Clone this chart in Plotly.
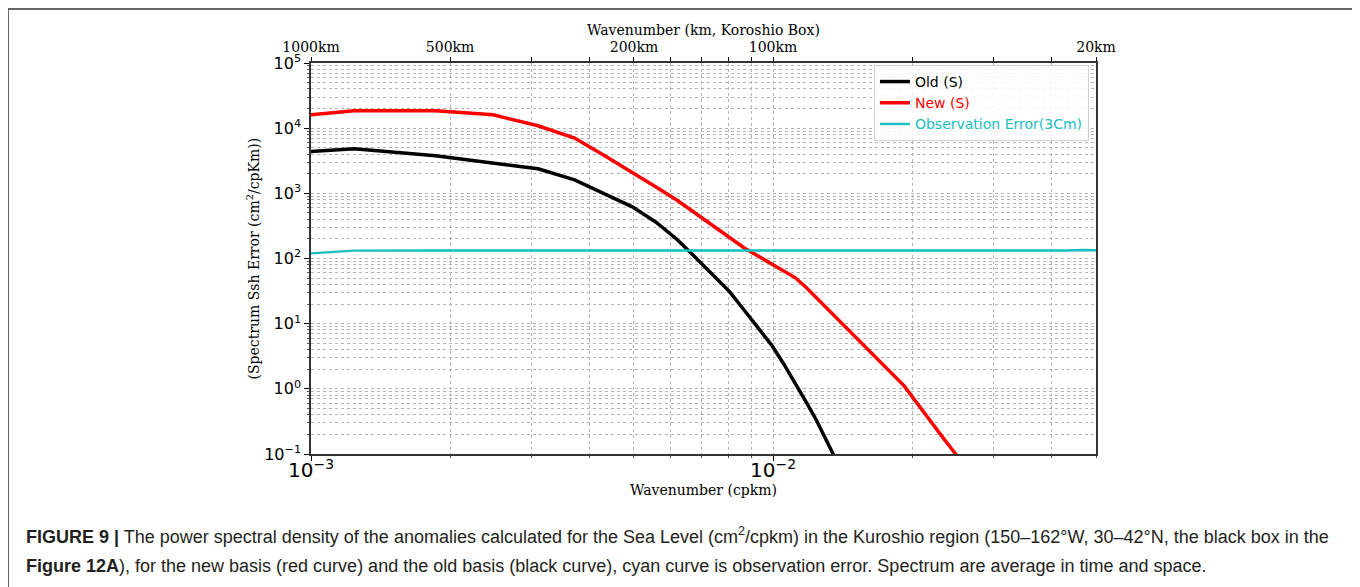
import plotly.graph_objects as go

# wavenumber (cpkm) of spectral estimates
wavenumber = [0.00062, 0.00124, 0.00186, 0.00248, 0.0031, 0.00372, 0.00434, 0.00496,
              0.00558, 0.0062, 0.00682, 0.00744, 0.00806, 0.00868, 0.0093, 0.00992,
              0.01054, 0.01116, 0.01178, 0.0124, 0.01302, 0.01364, 0.01426, 0.01488,
              0.0155, 0.01612, 0.01674, 0.01736, 0.01798, 0.0186, 0.01922, 0.01984,
              0.02046, 0.02108, 0.0217, 0.02232, 0.02294, 0.02356, 0.02418, 0.0248,
              0.02542]

old_s = [3500, 4830, 3780, 2920, 2380, 1610, 964, 620, 360, 196, 101, 54.5, 30.8,
         15.8, 8.47, 4.73, 2.43, 1.25, 0.634, 0.336, 0.17, 0.087, 0.045]

new_s = [11800, 18500, 18500, 16000, 10900, 7050, 3700, 2100, 1250, 782, 486, 311,
         208, 144, 108, 83, 66, 51, 36.3, 25.2, 17.9, 12.8, 9.4, 7.0, 5.25,
         3.97, 3.04, 2.35, 1.83, 1.44, 1.11, 0.82, 0.61, 0.45, 0.34, 0.265, 0.207,
         0.162, 0.128, 0.102, 0.081]

wn_obs = [0.00062, 0.00124, 0.00186, 0.00248, 0.0031, 0.00372, 0.00496, 0.0062,
          0.00806, 0.00992, 0.0124, 0.0155, 0.0186, 0.0217, 0.0248, 0.0279, 0.031,
          0.0341, 0.0372, 0.0403, 0.0434, 0.0465, 0.0502]
obs_err = [97, 132, 133, 133, 134, 134, 133, 133, 133, 133, 133, 134, 133, 134, 132,
           133, 131, 133, 132, 134, 133, 135, 134]

y_vals = [0.1, 1, 10, 100, 1000, 10000, 100000]
y_text = ["10<sup>−1</sup>", "10<sup>0</sup>", "10<sup>1</sup>", "10<sup>2</sup>",
          "10<sup>3</sup>", "10<sup>4</sup>", "10<sup>5</sup>"]

top_vals = [0.001, 0.002, 0.005, 0.01, 0.05]
top_text = ["1000km", "500km", "200km", "100km", "20km"]
top_minor = [0.003, 0.004, 0.006, 0.007, 0.008, 0.009, 0.02, 0.03, 0.04]

# page offset (browser body margin) and figure geometry
OFF = 8
W, H = 1360 - OFF, 587 - OFF
L, T = 311 - OFF, 63 - OFF
R, B = 264, 133
pw, ph = W - L - R, H - T - B


def px(x):
    return (x - OFF - L) / pw


def py(y):
    return (H - B - (y - OFF)) / ph


grid = dict(showgrid=True, gridcolor="#b5b5b5", griddash="dot", gridwidth=1)

fig = go.Figure()
fig.add_trace(go.Scatter(x=wavenumber[:len(old_s)], y=old_s, mode="lines",
                         name="Old (S)", line=dict(color="black", width=3.5)))
fig.add_trace(go.Scatter(x=wavenumber[:len(new_s)], y=new_s, mode="lines",
                         name="<span style='color:#ff0000'>New (S)</span>",
                         line=dict(color="#ff0000", width=3.5)))
fig.add_trace(go.Scatter(x=wn_obs, y=obs_err, mode="lines", xaxis="x2",
                         name="<span style='color:#17bfbf'>Observation Error(3Cm)</span>",
                         line=dict(color="#17bfbf", width=2.4)))

fig.update_layout(
    width=W, height=H,
    margin=dict(l=L, r=R, t=T, b=B, autoexpand=False),
    paper_bgcolor="white", plot_bgcolor="white",
    font=dict(family="DejaVu Sans", size=14, color="black"),
    xaxis=dict(type="log", range=[-3, -1.30103], dtick=1, exponentformat="power",
               showexponent="all", ticks="outside", ticklen=5, tickcolor="black",
               tickfont=dict(size=16), showline=True, linecolor="#333", linewidth=1.5,
               mirror=False, zeroline=False, automargin=False, ticklabelstandoff=-7,
               minor=dict(dtick="D1", ticks="outside", ticklen=2, tickcolor="#555",
                          **grid),
               title=dict(text="Wavenumber (cpkm)", standoff=4,
                          font=dict(family="DejaVu Serif", size=14)),
               **grid),
    xaxis2=dict(type="log", range=[-3, -1.30103], overlaying="x", side="top",
                tickmode="array", tickvals=top_vals, ticktext=top_text,
                ticks="outside", ticklen=4, tickcolor="black",
                tickfont=dict(family="DejaVu Serif", size=14),
                showline=True, linecolor="#333", linewidth=1.5, showgrid=False,
                zeroline=False, automargin=False,
                minor=dict(tickvals=top_minor, ticks="outside", ticklen=4,
                           tickcolor="black", showgrid=False),
                title=dict(text="Wavenumber (km, Koroshio Box)", standoff=0,
                           font=dict(family="DejaVu Serif", size=14))),
    yaxis=dict(type="log", range=[-1, 5], tickmode="array", tickvals=y_vals,
               ticktext=y_text, ticks="outside", ticklen=5, tickcolor="black",
               tickfont=dict(size=16), showline=True, linecolor="#333", linewidth=1.5,
               mirror=True, zeroline=False, automargin=False,
               minor=dict(dtick="D1", ticks="outside", ticklen=2, tickcolor="#555",
                          **grid),
               **grid),
    legend=dict(x=0.991, y=0.995, xanchor="right", yanchor="top",
                bgcolor="rgba(255,255,255,0.85)", bordercolor="#d0d0d0", borderwidth=1,
                font=dict(family="DejaVu Sans", size=14)),
    showlegend=True,
)

# y axis title
fig.add_annotation(xref="paper", yref="paper", x=px(253), y=0.5, textangle=-90,
                   xanchor="center", yanchor="middle", showarrow=False,
                   text="(Spectrum Ssh Error (cm<sup>2</sup>/cpKm))",
                   font=dict(family="DejaVu Serif", size=14, color="black"))

# outer figure frame
fig.add_shape(type="rect", xref="paper", yref="paper",
              x0=px(8), x1=px(1356), y0=py(600), y1=py(9),
              line=dict(color="#666", width=2), layer="below")

cap_font = dict(family="Liberation Sans, Arial", size=18, color="#231f20")
fig.add_annotation(xref="paper", yref="paper", x=px(24), y=py(535),
                   xanchor="left", yanchor="middle", showarrow=False, align="left",
                   font=cap_font,
                   text="<b>FIGURE 9 |</b> The power spectral density of the anomalies "
                        "calculated for the Sea Level (cm<sup>2</sup>/cpkm) in the Kuroshio "
                        "region (150–162°W, 30–42°N, the black box in the")
fig.add_annotation(xref="paper", yref="paper", x=px(24), y=py(566),
                   xanchor="left", yanchor="middle", showarrow=False, align="left",
                   font=cap_font,
                   text="<b>Figure 12A</b>), for the new basis (red curve) and the old "
                        "basis (black curve), cyan curve is observation error. Spectrum "
                        "are average in time and space.")

fig.write_html("out.html")
